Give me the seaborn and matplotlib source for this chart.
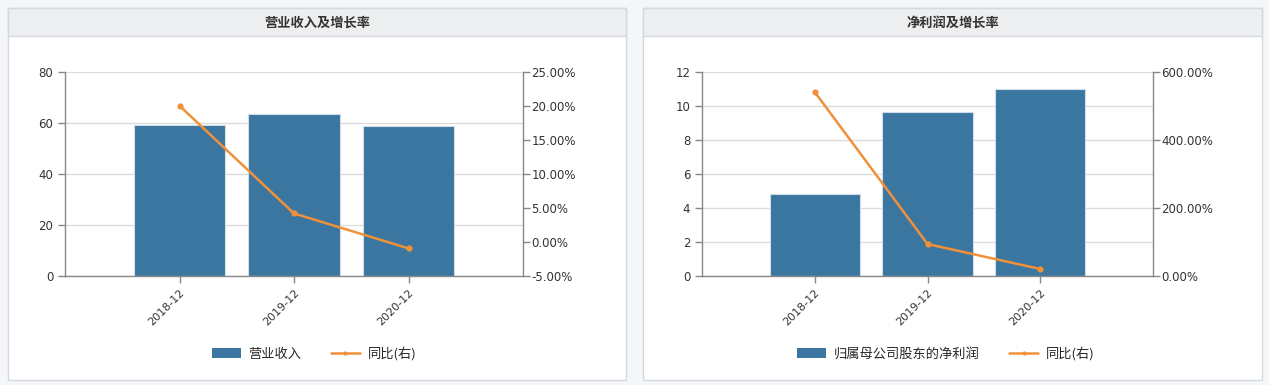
import numpy as np
import matplotlib
matplotlib.use("Agg")
import matplotlib.pyplot as plt
import seaborn as sns
from matplotlib.patches import Rectangle
from matplotlib.lines import Line2D
from matplotlib.ticker import FuncFormatter

# 数据
years = ["2018-12", "2019-12", "2020-12"]
revenue = [59.2, 63.6, 58.8]
revenue_yoy = [20.04, 4.2, -0.94]
profit = [4.84, 9.65, 11.0]
profit_yoy = [541.0, 94.0, 20.6]

titles = ["营业收入及增长率", "净利润及增长率"]
bar_names = ["营业收入", "归属母公司股东的净利润"]
line_name = "同比(右)"

sns.set_theme(style="white")
plt.rcParams['font.family'] = ['DejaVu Sans', 'Noto Sans CJK SC']
plt.rcParams['axes.unicode_minus'] = False

BAR = "#3b76a0"
LINE = "#f0913a"
GRID = "#dcdcdc"
AXC = "#888888"
TXT = "#333333"

W, H = 1269, 385
fig = plt.figure(figsize=(W / 100, H / 100), dpi=100)
fig.patch.set_facecolor("#f4f6f9")


def px(x0, y0, w, h):
    # 像素坐标(左上角原点) -> figure 比例
    return [x0 / W, 1 - (y0 + h) / H, w / W, h / H]


panels = [
    dict(box=(8, 8, 618, 372), ax=(65, 72, 458, 204),
         bars=revenue, yoy=revenue_yoy, ylim=(0, 80), yt=np.arange(0, 81, 20),
         y2lim=(-5, 25), y2t=np.arange(-5, 26, 5), leg=(314, 354)),
    dict(box=(643, 8, 619, 372), ax=(702, 72, 451, 204),
         bars=profit, yoy=profit_yoy, ylim=(0, 12), yt=np.arange(0, 13, 2),
         y2lim=(0, 600), y2t=np.arange(0, 601, 200), leg=(946, 354)),
]

for i, p in enumerate(panels):
    bx, by, bw, bh = p["box"]
    fig.patches.append(Rectangle((bx / W, 1 - (by + bh) / H), bw / W, bh / H,
                                 transform=fig.transFigure, facecolor="white",
                                 edgecolor="#d5d8dc", lw=1, zorder=-10))
    fig.patches.append(Rectangle((bx / W, 1 - (by + 28) / H), bw / W, 28 / H,
                                 transform=fig.transFigure, facecolor="#eceef0",
                                 edgecolor="#d5d8dc", lw=1, zorder=-9))
    fig.text((bx + bw / 2) / W, 1 - (by + 15) / H, titles[i], ha="center",
             va="center", fontsize=9.5, fontweight="bold", color=TXT,
             family=['Noto Sans CJK SC', 'DejaVu Sans'])

    ax = fig.add_axes(px(*p["ax"]))
    ax.set_facecolor("none")
    sns.barplot(x=years, y=p["bars"], ax=ax, color=BAR, saturation=1,
                width=0.8, edgecolor="#d0dde8", linewidth=0.8, zorder=2)
    ax.set_xlim(-1, 3)
    ax.set_ylim(*p["ylim"])
    ax.set_yticks(p["yt"])
    ax.yaxis.grid(True, color=GRID, lw=1, zorder=0)
    ax.set_axisbelow(True)
    for s in ["top", "right"]:
        ax.spines[s].set_visible(False)
    for s in ["left", "bottom"]:
        ax.spines[s].set_color(AXC)
        ax.spines[s].set_linewidth(1)
    ax.tick_params(axis="both", which="both", length=5, width=1, color=AXC,
                   labelsize=8.5, labelcolor=TXT, left=True, bottom=True)
    ax.tick_params(axis="x", labelsize=8, pad=3)
    ax.set_xticks(range(len(years)))
    ax.set_xticklabels(years, rotation=45, ha="right", rotation_mode="anchor")
    ax.set_xlabel("")
    ax.set_ylabel("")

    ax2 = ax.twinx()
    sns.lineplot(x=np.arange(len(years)), y=p["yoy"], ax=ax2, color=LINE,
                 lw=1.8, marker="o", markersize=4.5, markeredgewidth=0,
                 zorder=3)
    ax2.set_ylim(*p["y2lim"])
    ax2.set_yticks(p["y2t"])
    ax2.yaxis.set_major_formatter(FuncFormatter(lambda v, _: f"{v:.2f}%"))
    for s in ["top", "left", "bottom"]:
        ax2.spines[s].set_visible(False)
    ax2.spines["right"].set_color(AXC)
    ax2.spines["right"].set_linewidth(1)
    ax2.tick_params(axis="y", length=5, width=1, color=AXC, labelsize=8.5,
                    labelcolor=TXT, right=True, pad=1)
    ax2.set_ylabel("")

    handles = [Rectangle((0, 0), 1, 1, facecolor=BAR, edgecolor="none"),
               Line2D([0], [0], color=LINE, lw=1.8, marker="o", markersize=2)]
    lx, ly = p["leg"]
    fig.legend(handles, [bar_names[i], line_name], loc="center",
               bbox_to_anchor=(lx / W, 1 - ly / H), ncol=2, frameon=False,
               handlelength=2.2, handleheight=0.8,
               columnspacing=2.2, handletextpad=0.6,
               prop={'family': ['Noto Sans CJK SC', 'DejaVu Sans'], 'size': 9.5})

fig.savefig("out.png", dpi=100, facecolor=fig.get_facecolor())
